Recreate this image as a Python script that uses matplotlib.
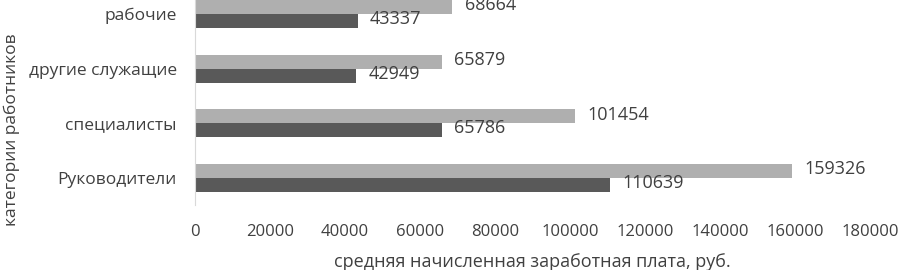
import numpy as np
import matplotlib.pyplot as plt

plt.rcParams['font.family'] = ['Open Sans', 'DejaVu Sans']

categories = ['Руководители', 'специалисты', 'другие служащие', 'рабочие']
light_vals = [159326, 101454, 65879, 68664]
dark_vals = [110639, 65786, 42949, 43337]
xticks = [0, 20000, 40000, 60000, 80000, 100000, 120000, 140000, 160000, 180000]

text_c = '#404040'
light_c = '#afafaf'
dark_c = '#595959'

fig = plt.figure(figsize=(9.01, 2.70), dpi=100)
ax = fig.add_axes([195/901, 65/270, 675/901, 205/270])

y = np.arange(len(categories))
h = 0.256
bl = ax.barh(y + h/2, light_vals, height=h, color=light_c)
bd = ax.barh(y - h/2, dark_vals, height=h, color=dark_c)

for bars in (bl, bd):
    for b in bars:
        w = b.get_width()
        ax.text(w + 3300, b.get_y() + b.get_height()/2 + 0.03, str(int(w)),
                va='center', ha='left', fontsize=13, color=text_c)

ax.set_xlim(0, 180000)
ax.set_ylim(-0.5, 3 + 14/54.7)
ax.set_xticks(xticks)
ax.set_xticklabels([str(t) for t in xticks])
ax.set_yticks(y)
ax.set_yticklabels(categories)
ax.tick_params(axis='x', length=0, labelsize=12, colors=text_c, pad=14)
ax.tick_params(axis='y', length=0, labelsize=12.5, colors=text_c, pad=13)

for s in ['top', 'right', 'bottom']:
    ax.spines[s].set_visible(False)
ax.spines['left'].set_color('#d9d9d9')

ax.set_xlabel('средняя начисленная заработная плата, руб.', fontsize=13,
              color=text_c, labelpad=9)
fig.text(12/901, 0.52, 'категории работников', rotation=90, fontsize=12.5,
         color=text_c, ha='center', va='center')

fig.savefig('out.png', dpi=100)
